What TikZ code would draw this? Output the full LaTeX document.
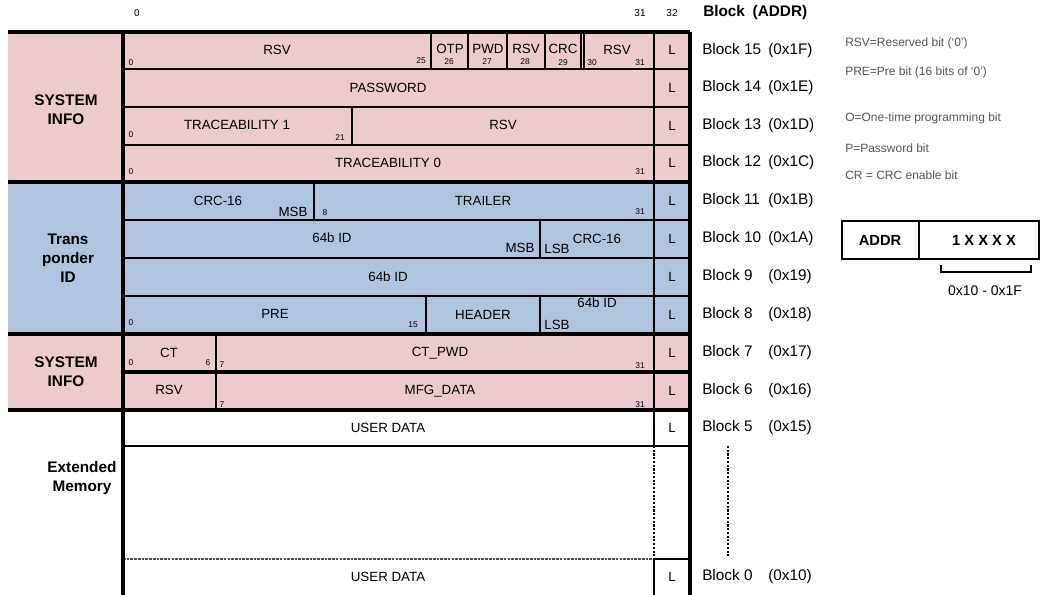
\documentclass[tikz,border=0pt]{standalone}
\usepackage{fontspec}
\setmainfont{Liberation Sans}
\usetikzlibrary{positioning}

\definecolor{sysred}{RGB}{235,203,203}
\definecolor{tpblue}{RGB}{176,196,222}
\definecolor{notegray}{RGB}{85,85,85}

% block number with the address set in its own column
\newcommand{\blockaddr}[2]{\makebox[49.5pt][l]{Block #1}(#2)}

\begin{document}
\begin{tikzpicture}[
    x=0.75pt,
    y=-0.75pt,
    field/.style={
        inner sep=0pt,
        font=\fontsize{10}{12}\selectfont
    },
    bitno/.style={
        inner sep=0pt,
        font=\fontsize{6.3}{7}\selectfont
    },
    topno/.style={
        inner sep=0pt,
        font=\fontsize{7.5}{9}\selectfont
    },
    section/.style={
        inner sep=0pt,
        align=center,
        font=\fontsize{11.5}{14.25}\selectfont\bfseries
    },
    blocklbl/.style={
        anchor=west,
        inner sep=0pt,
        font=\fontsize{11.5}{14}\selectfont
    },
    note/.style={
        anchor=west,
        inner sep=0pt,
        text=notegray,
        font=\fontsize{9}{11}\selectfont
    },
    cellline/.style={
        draw,
        line width=1.4pt
    },
    heavyline/.style={
        draw,
        line width=2.3pt
    },
    dotline/.style={
        draw,
        line width=0.9pt,
        dash pattern=on 1.6pt off 1.2pt
    }
]
    \useasboundingbox (0,0) rectangle (1040,595);

    % --- Fills of the three sections ---
    \fill [sysred] (8,32) rectangle (690,182);
    \fill [tpblue] (8,182) rectangle (690,334);
    \fill [sysred] (8,334) rectangle (690,410);

    % --- Row lines ---
    \path [cellline] (123,69) -- (690,69);
    \path [cellline] (123,107) -- (690,107);
    \path [cellline] (123,145) -- (690,145);
    \path [cellline] (123,220) -- (690,220);
    \path [cellline] (123,258) -- (690,258);
    \path [cellline] (123,296) -- (690,296);
    \path [heavyline] (123,372) -- (690,372);
    \path [cellline] (123,446) -- (690,446);
    \path [draw, line width=0.8pt, dash pattern=on 2pt off 0.8pt, black!70] (123,559) -- (654,559);
    \path [cellline] (654,559) -- (690,559);

    % section borders run under the left column too
    \path [heavyline] (8,32) -- (690,32);
    \path [heavyline] (8,182) -- (690,182);
    \path [heavyline] (8,334) -- (690,334);
    \path [heavyline] (8,410) -- (690,410);

    % --- Column lines ---
    \path [cellline] (654,32) -- (654,446);
    \path [dotline] (654,446) -- (654,559);
    \path [cellline] (654,559) -- (654,595);
    \path [heavyline] (123,32) -- (123,595);
    \path [heavyline] (690,32) -- (690,595);

    % Block 15 fields
    \path [cellline] (431,32) -- (431,69);
    \path [cellline] (468,32) -- (468,69);
    \path [cellline] (507,32) -- (507,69);
    \path [cellline] (545,32) -- (545,69);
    \path [draw, line width=0.8pt] (581,32) -- (581,69);
    \path [draw, line width=0.8pt] (584,32) -- (584,69);
    % Block 13, 11, 10, 8 fields
    \path [cellline] (352,107) -- (352,145);
    \path [cellline] (314,182) -- (314,220);
    \path [cellline] (540,220) -- (540,258);
    \path [cellline] (426,296) -- (426,334);
    \path [cellline] (540,296) -- (540,334);
    % Block 7 and 6 fields
    \path [cellline] (216,334) -- (216,410);

    % --- Bit positions on top ---
    \node [topno] (top0) at (137,13) {0};
    \node [topno] (top31) at (640,13) {31};
    \node [topno] (top32) at (672,13) {32};
    \node [blocklbl, font=\fontsize{11.5}{14}\selectfont\bfseries] (head) at (703,13) {Block\enspace(ADDR)};

    % --- Section names ---
    \node [section] (sys1) at (66,110) {SYSTEM\\INFO};
    \node [section] (tpid) at (68,258) {Trans\\ponder\\ID};
    \node [section] (sys2) at (66,372) {SYSTEM\\INFO};
    \node [section] (extmem) at (82,478) {Extended\\Memory};

    % --- Block 15 ---
    \node [field] (b15rsv) at (277,50) {RSV};
    \node [field] (b15otp) at (450,49) {OTP};
    \node [field] (b15pwd) at (488,49) {PWD};
    \node [field] (b15rsvb) at (526,49) {RSV};
    \node [field] (b15crc) at (563,49) {CRC};
    \node [field] (b15rsvc) at (617,50) {RSV};
    \node [bitno] (b15n0) at (131,63) {0};
    \node [bitno] (b15n25) at (421,61) {25};
    \node [bitno] (b15n26) at (449,62) {26};
    \node [bitno] (b15n27) at (487,62) {27};
    \node [bitno] (b15n28) at (525,62) {28};
    \node [bitno] (b15n29) at (563,63) {29};
    \node [bitno] (b15n30) at (592,63) {30};
    \node [bitno] (b15n31) at (640,63) {31};

    % --- Block 14 ---
    \node [field] (b14pwd) at (388,88) {PASSWORD};

    % --- Block 13 ---
    \node [field] (b13tr) at (237,125) {TRACEABILITY 1};
    \node [field] (b13rsv) at (503,125) {RSV};
    \node [bitno] (b13n0) at (131,135) {0};
    \node [bitno] (b13n21) at (340,138) {21};

    % --- Block 12 ---
    \node [field] (b12tr) at (388,163) {TRACEABILITY 0};
    \node [bitno] (b12n0) at (131,172) {0};
    \node [bitno] (b12n31) at (640,172) {31};

    % --- Block 11 ---
    \node [field] (b11crc) at (218,201) {CRC-16};
    \node [field] (b11msb) at (293,212) {MSB};
    \node [bitno] (b11n8) at (325,213) {8};
    \node [field] (b11trl) at (483,201) {TRAILER};
    \node [bitno] (b11n31) at (640,212) {31};

    % --- Block 10 ---
    \node [field] (b10id) at (332,238) {64b ID};
    \node [field] (b10msb) at (520,248) {MSB};
    \node [field] (b10lsb) at (557,249) {LSB};
    \node [field] (b10crc) at (597,239) {CRC-16};

    % --- Block 9 ---
    \node [field] (b9id) at (388,277) {64b ID};

    % --- Block 8 ---
    \node [field] (b8pre) at (275,314) {PRE};
    \node [field] (b8hdr) at (483,315) {HEADER};
    \node [field] (b8id) at (597,303) {64b ID};
    \node [field] (b8lsb) at (557,325) {LSB};
    \node [bitno] (b8n0) at (131,323) {0};
    \node [bitno] (b8n15) at (413,325) {15};

    % --- Block 7 ---
    \node [field] (b7ct) at (169,353) {CT};
    \node [field] (b7pwd) at (440,353) {CT\_PWD};
    \node [bitno] (b7n0) at (131,363) {0};
    \node [bitno] (b7n6) at (208,363) {6};
    \node [bitno] (b7n7) at (222,365) {7};
    \node [bitno] (b7n31) at (640,366) {31};

    % --- Block 6 ---
    \node [field] (b6rsv) at (169,390) {RSV};
    \node [field] (b6mfg) at (440,391) {MFG\_DATA};
    \node [bitno] (b6n7) at (222,405) {7};
    \node [bitno] (b6n31) at (640,405) {31};

    % --- Block 5 and 0 ---
    \node [field] (b5usr) at (388,428) {USER DATA};
    \node [field] (b0usr) at (388,577) {USER DATA};

    % --- Lock bits ---
    \node [field] (l15) at (672,50) {L};
    \node [field] (l14) at (672,88) {L};
    \node [field] (l13) at (672,126) {L};
    \node [field] (l12) at (672,163) {L};
    \node [field] (l11) at (672,201) {L};
    \node [field] (l10) at (672,239) {L};
    \node [field] (l9) at (672,277) {L};
    \node [field] (l8) at (672,315) {L};
    \node [field] (l7) at (672,353) {L};
    \node [field] (l6) at (672,391) {L};
    \node [field] (l5) at (672,428) {L};
    \node [field] (l0) at (672,577) {L};

    % --- Block addresses ---
    \node [blocklbl] (a15) at (702,51) {\blockaddr{15}{0x1F}};
    \node [blocklbl] (a14) at (702,88) {\blockaddr{14}{0x1E}};
    \node [blocklbl] (a13) at (702,126) {\blockaddr{13}{0x1D}};
    \node [blocklbl] (a12) at (702,163) {\blockaddr{12}{0x1C}};
    \node [blocklbl] (a11) at (702,201) {\blockaddr{11}{0x1B}};
    \node [blocklbl] (a10) at (702,239) {\blockaddr{10}{0x1A}};
    \node [blocklbl] (a9) at (702,277) {\blockaddr{9}{0x19}};
    \node [blocklbl] (a8) at (702,315) {\blockaddr{8}{0x18}};
    \node [blocklbl] (a7) at (702,353) {\blockaddr{7}{0x17}};
    \node [blocklbl] (a6) at (702,391) {\blockaddr{6}{0x16}};
    \node [blocklbl] (a5) at (702,428) {\blockaddr{5}{0x15}};
    \node [blocklbl] (a0) at (702,577) {\blockaddr{0}{0x10}};
    \path [dotline] (728,446) -- (728,556);

    % --- Legend ---
    \node [note] (nrsv) at (845,43) {RSV=Reserved bit (‘0’)};
    \node [note] (npre) at (845,72) {PRE=Pre bit (16 bits of ‘0’)};
    \node [note] (notp) at (845,118) {O=One-time programming bit};
    \node [note] (npwd) at (845,148) {P=Password bit};
    \node [note] (ncrc) at (845,175) {CR = CRC enable bit};

    % --- Address format ---
    \draw [line width=1pt] (842,221) rectangle (1039,259);
    \draw [line width=1pt] (919,221) -- (919,259);
    \node [field, font=\fontsize{11}{13}\selectfont\bfseries] (addr) at (880,240) {ADDR};
    \node [field, font=\fontsize{11}{13}\selectfont\bfseries] (addrval) at (984,240) {1 X X X X};
    \draw [line width=1.4pt] (941,265) -- (941,272) -- (1031,272) -- (1031,265);
    \node [field, font=\fontsize{10.5}{12}\selectfont] (range) at (985,291) {0x10 - 0x1F};

\end{tikzpicture}
\end{document}
